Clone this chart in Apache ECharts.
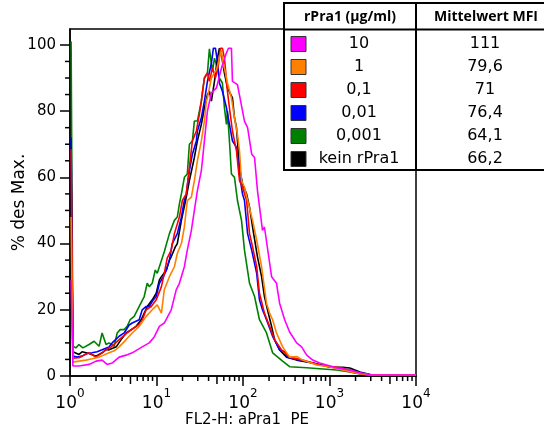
<!DOCTYPE html>
<html><head><meta charset="utf-8">
<script src="https://cdn.jsdelivr.net/npm/echarts@6/dist/echarts.min.js"></script>
<style>html,body{margin:0;padding:0;background:#fff}#c{width:544px;height:430px}</style>
</head><body><div id="c"></div>
<script>
// ---- data: [FL2-H value, % des Max.] ----
const magenta10 = [[1.03,29],[1.08,3],[1.27,3],[1.66,3.5],[2.00,4.5],[2.35,4.8],[2.69,3.5],[3.07,3.9],[3.70,5.7],[4.46,6.3],[5.24,7],[6.84,8.8],[8.24,10],[9.42,11.8],[10.8,15],[12.3,16],[14.8,20],[16.9,26],[18.4,28],[21.0,33],[22.7,38],[25.3,44],[27.4,50],[29.7,56],[33.0,62],[35.8,71],[38.8,80],[43.1,85.5],[49.3,87],[56.3,93],[64.4,97.6],[67.9,99],[73.5,99],[75.5,89],[86.3,88],[104,77],[113,75],[126,67],[136,66],[147,56],[168,44],[177,45],[214,30],[244,28],[265,22],[303,17],[346,13.3],[417,10],[476,8.8],[545,6.3],[640,4.8],[771,3.9],[929,3.3],[1214,2.4],[1718,1.8],[2244,1.0],[3090,0.3],[10000,0.3]];
const orange1 = [[1.03,48],[1.08,4.2],[1.27,4.5],[1.53,4.8],[1.80,5.2],[2.17,5.7],[2.83,7],[3.24,7.6],[3.70,8.8],[4.46,11],[5.24,13],[6.31,15],[7.60,18],[8.93,20],[10.2,21.5],[11.4,19],[12.3,26],[14.1,30],[16.1,33],[17.4,37],[19.4,40],[21.0,45],[22.7,53],[25.3,54],[27.4,59],[29.7,65],[33.0,71],[35.8,77],[37.7,83],[38.8,84],[43.1,90],[49.3,92.5],[53.4,96],[56.3,98.5],[57.8,95.5],[62.7,91.5],[66.1,88.5],[73.5,84],[79.7,78],[86.3,73],[91.1,68],[96.1,59],[104,57],[113,53],[129,47],[144,41],[164,33],[187,22],[203,19],[220,17],[244,13],[287,8.8],[346,5.7],[417,5.9],[490,4.8],[711,3.3],[1006,2.7],[1426,1.8],[1963,1.0],[2564,0.5],[3090,0.3],[10000,0.3]];
const red01 = [[1.03,68.5],[1.08,5.4],[1.27,5.5],[1.45,6.3],[1.66,7],[2.00,5.7],[2.35,7],[2.61,7.9],[2.99,8.8],[3.70,11],[4.58,13],[5.82,15],[6.65,16],[7.60,20],[8.69,21],[9.93,23],[11.4,27],[12.3,31],[13.3,35.6],[14.8,38],[16.1,43],[18.4,48],[19.9,53],[22.1,55],[24.0,63],[26.0,71],[28.9,74],[31.3,79],[33.0,83],[33.9,85.5],[35.8,90],[38.8,91.5],[40.9,89],[44.3,93],[48.0,90],[52.0,94],[54.8,99],[57.8,99],[61.0,96],[66.1,86],[69.7,81],[75.5,74],[84.1,68],[91.1,59],[98.6,57],[110,53],[119,43],[129,39],[144,33],[155,25],[177,19],[203,15],[232,11],[279,7.9],[346,5.7],[490,4.8],[771,3.3],[1426,2.4],[1718,1.2],[2244,0.8],[3090,0.3],[10000,0.3]];
const blue001 = [[1.03,72],[1.08,6],[1.21,5.7],[1.38,6],[1.57,6.8],[1.80,7],[2.06,7.3],[2.35,7.9],[2.83,8.8],[3.07,10],[3.70,12],[4.23,13],[4.83,15.4],[5.24,16],[6.31,17],[6.84,20],[7.60,21],[8.24,21],[9.17,23],[9.93,24],[10.8,28],[12.0,30],[13.0,32],[14.1,35],[15.2,40],[17.4,43],[19.4,48],[21.0,53],[22.1,55],[24.0,62],[26.0,67],[28.9,71],[29.7,74],[33.0,78],[35.8,83],[38.8,89],[43.1,94.5],[45.5,99],[48.0,99],[50.6,95],[53.4,88.5],[57.8,86],[64.4,81],[69.7,76],[75.5,71],[84.1,69],[91.1,61],[98.6,55],[104,53],[113,43],[126,38],[144,31],[155,23],[168,20],[187,17],[220,12],[265,7.9],[303,7.3],[328,5.7],[452,4.8],[640,3.9],[1006,2.7],[1718,1.8],[2244,1.0],[3090,0.3],[10000,0.3]];
const green0001 = [[1.03,101],[1.08,9],[1.17,8.5],[1.27,9.5],[1.41,8.5],[1.66,9.5],[1.90,10.5],[2.17,9],[2.35,13],[2.61,9.5],[2.83,10],[3.24,9],[3.51,13],[3.80,14],[4.23,14],[4.58,15],[4.96,17],[5.52,18],[6.31,21],[7.21,24],[7.81,28],[8.24,27],[8.93,28],[9.68,32],[10.2,31],[10.8,33],[12.3,37.5],[14.1,43],[16.1,47],[17.4,48],[18.4,52],[19.4,55],[21.0,60],[22.7,61],[24.0,70],[26.0,71],[27.4,77],[29.7,77],[33.0,83],[35.8,90],[38.8,91.5],[40.9,98.8],[43.1,98.5],[44.3,92],[46.8,96],[50.6,93],[53.4,90],[57.8,88.5],[61.0,81],[64.4,76],[66.1,80],[69.7,71],[73.5,61],[79.7,60],[86.3,53],[96.1,47],[104,38],[119,28],[136,24],[155,17],[187,13],[220,7],[287,4.5],[346,2.8],[545,2.5],[771,2.2],[1214,1.8],[1718,1.2],[2244,0.6],[3090,0.3],[10000,0.3]];
const blackNone = [[1.03,62],[1.08,7.3],[1.27,6.5],[1.38,7.3],[1.66,6.8],[2.00,6],[2.35,7],[2.61,8],[2.83,7.9],[3.42,8.8],[3.90,11],[4.46,13],[5.10,14],[5.82,15],[6.65,17],[7.81,21],[8.93,23],[9.93,25],[10.8,29],[11.4,30],[13.0,32],[14.1,35],[14.8,36],[16.5,39],[17.4,40],[19.4,47],[22.1,54],[24.0,59],[27.4,66],[29.7,71],[33.0,76],[35.8,81],[38.8,85],[40.9,86],[43.1,83],[46.8,89],[50.6,96],[53.4,99],[56.3,97],[61.0,91.5],[66.1,87],[75.5,84],[79.7,78],[84.1,75],[86.3,71],[91.1,63],[98.6,58],[110,55],[119,51],[129,45],[147,36],[164,30],[177,24],[192,20],[214,15],[232,11],[265,7.9],[319,5.7],[417,4.8],[640,3.9],[1006,2.7],[1426,2.6],[1718,2.4],[2244,1.2],[3090,0.3],[10000,0.3]];

const concentrationLabels = ['10', '1', '0,1', '0,01', '0,001', 'kein rPra1'];
const mfiValues = ['111', '79,6', '71', '76,4', '64,1', '66,2'];
const tableHeader = ['rPra1 (µg/ml)', 'Mittelwert MFI'];
const seriesColors = ['#ff00ff', '#ff8000', '#ff0000', '#0000ff', '#008000', '#000000'];
const seriesData = [magenta10, orange1, red01, blue001, green0001, blackNone];
const drawOrder = [4, 5, 3, 2, 1, 0];

const xMajorTicks = [1, 10, 100, 1000, 10000];
const xMinorTicks = [2,3,4,6,7,8,9,20,30,40,60,70,80,90,200,300,400,600,700,800,900,2000,3000,4000,6000,7000,8000,9000];
const xMidTicks = [5, 50, 500, 5000];
const yMajorTicks = [0, 20, 40, 60, 80, 100];
const yMinorTicks = [5,10,15,25,30,35,45,50,55,65,70,75,85,90,95];
const yMax = 104.8;

const FONT = 'DejaVu Sans';
const chart = echarts.init(document.getElementById('c'), null, {renderer: 'canvas'});

const series = drawOrder.map(i => ({
  type: 'line', name: concentrationLabels[i], data: seriesData[i],
  showSymbol: false, silent: true, z: 2,
  lineStyle: {color: seriesColors[i], width: 1.6}, itemStyle: {color: seriesColors[i]}
}));

chart.setOption({
  animation: false,
  backgroundColor: '#fff',
  grid: {left: 70, right: 128, top: 29, bottom: 54, outerBoundsMode: 'none',
    show: true, borderColor: '#000', borderWidth: 1.5},
  xAxis: {
    type: 'log', logBase: 10, min: 1, max: 10000,
    splitLine: {show: false}, minorSplitLine: {show: false},
    axisLine: {show: true, onZero: false, lineStyle: {color: '#000', width: 1.5}},
    axisTick: {show: true, length: 10, lineStyle: {color: '#000', width: 1.5}},
    axisLabel: {show: true, customValues: xMajorTicks, margin: 12, color: '#000',
      formatter: v => '{b|10}{s|' + Math.round(Math.log10(v)) + '}',
      rich: {b: {fontFamily: FONT, fontSize: 17, lineHeight: 24, verticalAlign: 'bottom', color: '#000'},
             s: {fontFamily: FONT, fontSize: 12, lineHeight: 12, verticalAlign: 'top', color: '#000'}}},
    name: 'FL2-H: aPra1  PE', nameLocation: 'middle', nameGap: 37, nameMoveOverlap: false,
    nameTextStyle: {fontFamily: FONT, fontSize: 15, color: '#000', padding: [0, 0, 0, 8]}
  },
  yAxis: {
    type: 'value', min: 0, max: yMax,
    splitLine: {show: false},
    axisLine: {show: true, onZero: false, lineStyle: {color: '#000', width: 1.5}},
    axisTick: {show: true, length: 10, customValues: yMajorTicks, lineStyle: {color: '#000', width: 1.5}},
    axisLabel: {show: true, customValues: yMajorTicks, margin: 14, fontFamily: FONT, fontSize: 15, color: '#000'},
    name: '% des Max.', nameLocation: 'middle', nameGap: 42, nameMoveOverlap: false,
    nameTextStyle: {fontFamily: FONT, fontSize: 17, color: '#000'}
  },
  series: series
});

// ---- minor ticks: positions from the chart's own axis scales ----
const elements = [];
const toPx = (x, y) => chart.convertToPixel({xAxisIndex: 0, yAxisIndex: 0}, [x, y]);
function addXTicks(values, len) {
  values.forEach(v => {
    const p = toPx(v, 0);
    elements.push({type: 'line', z: 200, shape: {x1: p[0], y1: p[1], x2: p[0], y2: p[1] + len},
      style: {stroke: '#000', lineWidth: 1.5}});
  });
}
function addYTicks(values, len) {
  values.forEach(v => {
    const p = toPx(1, v);
    elements.push({type: 'line', z: 200, shape: {x1: p[0] - len, y1: p[1], x2: p[0], y2: p[1]},
      style: {stroke: '#000', lineWidth: 1.5}});
  });
}
addXTicks(xMidTicks, 8);
addXTicks(xMinorTicks, 5);
addYTicks(yMinorTicks, 5);

// ---- legend table ----
elements.push({type: 'rect', z: 100, shape: {x: 284, y: 3, width: 290, height: 167},
  style: {fill: '#fff', stroke: '#000', lineWidth: 2}});
elements.push({type: 'line', z: 101, shape: {x1: 284, y1: 29.5, x2: 560, y2: 29.5}, style: {stroke: '#000', lineWidth: 2}});
elements.push({type: 'line', z: 101, shape: {x1: 416, y1: 3, x2: 416, y2: 170}, style: {stroke: '#000', lineWidth: 2}});
elements.push({type: 'text', z: 102, style: {text: tableHeader[0], x: 350, y: 17, font: 'bold 14px "Open Sans"', fill: '#000', textAlign: 'center', textVerticalAlign: 'middle'}});
elements.push({type: 'text', z: 102, style: {text: tableHeader[1], x: 486, y: 17, font: 'bold 14px "Open Sans"', fill: '#000', textAlign: 'center', textVerticalAlign: 'middle'}});
concentrationLabels.forEach((lab, i) => {
  const cy = 44 + i * 23;
  elements.push({type: 'rect', z: 102, shape: {x: 291, y: cy - 7.5, width: 15, height: 15},
    style: {fill: seriesColors[i], stroke: '#333', lineWidth: 1}});
  elements.push({type: 'text', z: 102, style: {text: lab, x: 359, y: cy, font: '16px "' + FONT + '"', fill: '#000', textAlign: 'center', textVerticalAlign: 'middle'}});
  elements.push({type: 'text', z: 102, style: {text: mfiValues[i], x: 485, y: cy, font: '16px "' + FONT + '"', fill: '#000', textAlign: 'center', textVerticalAlign: 'middle'}});
});

chart.setOption({graphic: {elements: elements}});
</script></body></html>
